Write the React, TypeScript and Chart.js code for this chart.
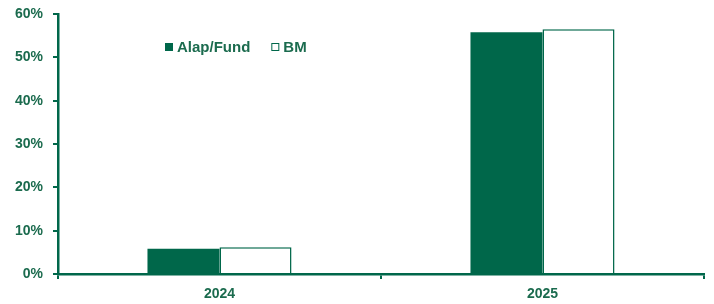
import React, { useEffect, useRef } from "react";
import { Chart, registerables } from "chart.js";

Chart.register(...registerables);

const categories = ["2024", "2025"];
const fundValues = [5.8, 55.8];
const bmValues = [6.2, 56.5];
const seriesLabels = ["Alap/Fund", "BM"];
const yTicks = [0, 10, 20, 30, 40, 50, 60];

const GREEN = "#00674A";
const TEXT = "#1B6B4E";
const FONT = "'Liberation Sans', Arial, sans-serif";

const legendPlugin = {
  id: "inlineLegend",
  afterDraw(chart: any) {
    const ctx = chart.ctx;
    const ds = chart.data.datasets;
    ctx.save();
    ctx.font = `bold 15px ${FONT}`;
    ctx.textBaseline = "middle";
    const y = 47;
    let x = 165;
    ds.forEach((d: any, i: number) => {
      if (i === 0) {
        ctx.fillStyle = GREEN;
        ctx.fillRect(x, y - 4, 8, 8);
      } else {
        ctx.fillStyle = "#fff";
        ctx.fillRect(x, y - 4, 8, 8);
        ctx.strokeStyle = GREEN;
        ctx.lineWidth = 1;
        ctx.strokeRect(x + 0.5, y - 3.5, 7, 7);
      }
      ctx.fillStyle = TEXT;
      ctx.fillText(d.label, x + 12, y + 1);
      x += 12 + ctx.measureText(d.label).width + 21;
    });
    ctx.restore();
  },
};

export default function App() {
  const ref = useRef<HTMLCanvasElement>(null);
  useEffect(() => {
    document.body.style.margin = "0";
    const chart = new Chart(ref.current!, {
      type: "bar",
      data: {
        labels: categories,
        datasets: [
          {
            label: seriesLabels[0],
            data: fundValues,
            backgroundColor: GREEN,
            borderWidth: 0,
            categoryPercentage: 0.446,
            barPercentage: 1,
          },
          {
            label: seriesLabels[1],
            data: bmValues,
            backgroundColor: "#ffffff",
            borderColor: GREEN,
            borderWidth: 1.5,
            categoryPercentage: 0.446,
            barPercentage: 1,
          },
        ],
      },
      options: {
        responsive: false,
        animation: false,
        layout: { padding: { top: 14, right: 10, left: 0, bottom: 0 } },
        plugins: { legend: { display: false }, tooltip: { enabled: false } },
        scales: {
          x: {
            grid: {
              offset: true,
              drawOnChartArea: false,
              drawTicks: true,
              tickLength: 5,
              color: GREEN,
              lineWidth: 2,
            },
            border: { color: GREEN, width: 2.5 },
            ticks: {
              color: TEXT,
              font: { family: FONT, size: 14, weight: "bold" },
              padding: 7,
            },
            afterFit(scale: any) {
              scale.height = 30;
              scale.paddingLeft = 0;
              scale.paddingRight = 0;
            },
          },
          y: {
            min: 0,
            max: 60,
            afterBuildTicks(scale: any) {
              scale.ticks = yTicks.map((v) => ({ value: v }));
            },
            grid: {
              drawOnChartArea: false,
              drawTicks: true,
              tickLength: 5,
              color: GREEN,
              lineWidth: 2,
            },
            border: { color: GREEN, width: 2.5 },
            ticks: {
              color: TEXT,
              font: { family: FONT, size: 14, weight: "bold" },
              padding: 10,
              callback: (v: any) => `${v}%`,
            },
            afterFit(scale: any) {
              scale.width = 58;
              scale.paddingTop = 0;
              scale.paddingBottom = 0;
            },
          },
        },
      },
      plugins: [legendPlugin],
    });
    return () => chart.destroy();
  }, []);
  return <canvas ref={ref} width={714} height={304} style={{ display: "block" }} />;
}
